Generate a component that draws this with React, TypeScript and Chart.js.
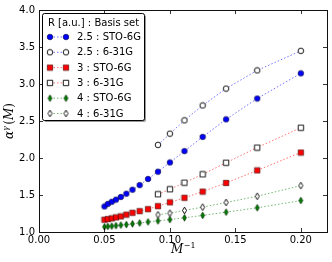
import React, { useEffect, useRef } from "react";
import { Chart, registerables } from "chart.js";
Chart.register(...registerables);

// x values: 1/M for M = 20 ... 5
const invM_all = [0.05, 0.0526, 0.0556, 0.0588, 0.0625, 0.0667, 0.0714, 0.0769, 0.0833, 0.0909, 0.1, 0.1111, 0.125, 0.1429, 0.1667, 0.2];
// x values: 1/M for M = 11 ... 5
const invM_short = [0.0909, 0.1, 0.1111, 0.125, 0.1429, 0.1667, 0.2];

const r25_sto = [1.345, 1.38, 1.408, 1.437, 1.473, 1.517, 1.571, 1.634, 1.717, 1.815, 1.94, 2.093, 2.285, 2.522, 2.804, 3.144];
const r25_631 = [2.177, 2.329, 2.509, 2.71, 2.938, 3.184, 3.448];
const r3_sto = [1.166, 1.174, 1.184, 1.197, 1.211, 1.234, 1.26, 1.282, 1.309, 1.349, 1.401, 1.462, 1.546, 1.663, 1.832, 2.074];
const r3_631 = [1.51, 1.577, 1.667, 1.779, 1.936, 2.141, 2.409];
const r4_sto = [1.07, 1.075, 1.08, 1.086, 1.093, 1.1, 1.11, 1.122, 1.136, 1.15, 1.168, 1.192, 1.224, 1.268, 1.327, 1.425];
const r4_631 = [1.233, 1.255, 1.291, 1.336, 1.399, 1.483, 1.627];

const seriesLabels = ["2.5 : STO-6G", "2.5 : 6-31G", "3 : STO-6G", "3 : 6-31G", "4 : STO-6G", "4 : 6-31G"];
const legendTitle = "R [a.u.] : Basis set";
const xTicks = [0, 0.05, 0.1, 0.15, 0.2];
const yTicks = [1.0, 1.5, 2.0, 2.5, 3.0, 3.5, 4.0];

type Kind = "circle" | "square" | "diamond";

function makeMarker(kind: Kind, fill: string, stroke: string, lw: number): HTMLCanvasElement {
  const c = document.createElement("canvas");
  if (kind === "diamond") {
    c.width = 7;
    c.height = 9;
  } else {
    c.width = 8;
    c.height = 8;
  }
  const ctx = c.getContext("2d")!;
  const cx = c.width / 2;
  const cy = c.height / 2;
  ctx.beginPath();
  if (kind === "circle") {
    ctx.arc(cx, cy, 2.8, 0, Math.PI * 2);
  } else if (kind === "square") {
    ctx.rect(cx - 2.7, cy - 2.7, 5.4, 5.4);
  } else {
    ctx.moveTo(cx, cy - 3.4);
    ctx.lineTo(cx + 2.0, cy);
    ctx.lineTo(cx, cy + 3.4);
    ctx.lineTo(cx - 2.0, cy);
    ctx.closePath();
  }
  ctx.fillStyle = fill;
  ctx.fill();
  ctx.lineWidth = lw;
  ctx.strokeStyle = stroke;
  ctx.stroke();
  return c;
}

export default function App() {
  const ref = useRef<HTMLCanvasElement | null>(null);

  useEffect(() => {
    if (!ref.current) return;
    const markers = [
      makeMarker("circle", "#0000ff", "#000033", 0.6),
      makeMarker("circle", "#ffffff", "#000000", 0.9),
      makeMarker("square", "#ff0000", "#330000", 0.6),
      makeMarker("square", "#ffffff", "#000000", 0.9),
      makeMarker("diamond", "#007a00", "#002200", 0.6),
      makeMarker("diamond", "#ffffff", "#000000", 0.9),
    ];
    const lineColors = [
      "rgba(0,0,255,0.55)",
      "rgba(0,0,255,0.55)",
      "rgba(255,0,0,0.55)",
      "rgba(255,0,0,0.55)",
      "rgba(0,128,0,0.55)",
      "rgba(0,128,0,0.55)",
    ];
    const xsets = [invM_all, invM_short, invM_all, invM_short, invM_all, invM_short];
    const ysets = [r25_sto, r25_631, r3_sto, r3_631, r4_sto, r4_631];

    const datasets = ysets.map((ys, i) => ({
      label: seriesLabels[i],
      data: ys.map((y, j) => ({ x: xsets[i][j], y })),
      showLine: true,
      borderColor: lineColors[i],
      borderWidth: 1,
      borderDash: [1.5, 2],
      pointStyle: markers[i] as any,
      pointRadius: 4,
      backgroundColor: "#000",
      order: 6 - i,
    }));

    const framePlugin = {
      id: "frame",
      afterDatasetsDraw(chart: any) {
        const { ctx, chartArea, scales } = chart;
        const L = chartArea.left, R = chartArea.right, T = chartArea.top, B = chartArea.bottom;
        ctx.save();
        ctx.strokeStyle = "#000";
        ctx.lineWidth = 0.8;
        const tl = 4;
        xTicks.forEach((v) => {
          const px = Math.round(scales.x.getPixelForValue(v)) + 0.5;
          ctx.beginPath();
          ctx.moveTo(px, B);
          ctx.lineTo(px, B - tl);
          ctx.moveTo(px, T);
          ctx.lineTo(px, T + tl);
          ctx.stroke();
        });
        yTicks.forEach((v) => {
          const py = Math.round(scales.y.getPixelForValue(v)) + 0.5;
          ctx.beginPath();
          ctx.moveTo(L, py);
          ctx.lineTo(L + tl, py);
          ctx.moveTo(R, py);
          ctx.lineTo(R - tl, py);
          ctx.stroke();
        });
        ctx.lineWidth = 1;
        ctx.strokeStyle = "#111";
        ctx.strokeRect(Math.round(L) + 0.5, Math.round(T) + 0.5, Math.round(R - L), Math.round(B - T));
        ctx.restore();
      },
      afterDraw(chart: any) {
        const { ctx, chartArea } = chart;
        ctx.save();
        // ---------- legend ----------
        const bx = 42.5, by = 13.5, bw = 102, bh = 107;
        const rr = 2;
        const roundRect = (x: number, y: number, w: number, h: number) => {
          ctx.beginPath();
          ctx.moveTo(x + rr, y);
          ctx.lineTo(x + w - rr, y);
          ctx.quadraticCurveTo(x + w, y, x + w, y + rr);
          ctx.lineTo(x + w, y + h - rr);
          ctx.quadraticCurveTo(x + w, y + h, x + w - rr, y + h);
          ctx.lineTo(x + rr, y + h);
          ctx.quadraticCurveTo(x, y + h, x, y + h - rr);
          ctx.lineTo(x, y + rr);
          ctx.quadraticCurveTo(x, y, x + rr, y);
          ctx.closePath();
        };
        roundRect(bx + 1.5, by + 1.5, bw, bh);
        ctx.fillStyle = "rgba(0,0,0,0.4)";
        ctx.fill();
        roundRect(bx, by, bw, bh);
        ctx.fillStyle = "#fff";
        ctx.fill();
        ctx.lineWidth = 1;
        ctx.strokeStyle = "#000";
        ctx.stroke();

        ctx.font = "10px 'DejaVu Sans'";
        ctx.fillStyle = "#000";
        ctx.textBaseline = "middle";
        ctx.textAlign = "center";
        ctx.fillText(legendTitle, bx + bw / 2, 23);
        ctx.textAlign = "left";
        for (let i = 0; i < 6; i++) {
          const cy = 37 + i * 15.3;
          ctx.beginPath();
          ctx.setLineDash([1.5, 2]);
          ctx.strokeStyle = lineColors[i];
          ctx.lineWidth = 1;
          ctx.moveTo(50, cy);
          ctx.lineTo(66, cy);
          ctx.stroke();
          ctx.setLineDash([]);
          const m = markers[i];
          ctx.drawImage(m, 50 - m.width / 2, cy - m.height / 2);
          ctx.drawImage(m, 66 - m.width / 2, cy - m.height / 2);
          ctx.fillStyle = "#000";
          ctx.fillText(seriesLabels[i], 77, cy + 0.5);
        }

        // ---------- x axis title: M^{-1} ----------
        const xc = (chartArea.left + chartArea.right) / 2;
        const big = "italic 12px 'DejaVu Serif'";
        const small = "8px 'DejaVu Serif'";
        ctx.textBaseline = "alphabetic";
        ctx.font = big;
        const wM = ctx.measureText("M").width;
        ctx.font = small;
        const wSup = ctx.measureText("\u22121").width;
        let x0 = xc - (wM + wSup) / 2;
        ctx.font = big;
        ctx.fillText("M", x0, 253);
        ctx.font = small;
        ctx.fillText("\u22121", x0 + wM + 0.5, 248);

        // ---------- y axis title: alpha^gamma(M) ----------
        const yc = (chartArea.top + chartArea.bottom) / 2;
        ctx.translate(13, yc);
        ctx.rotate(-Math.PI / 2);
        const parts: [string, string, number][] = [
          ["\u03b1", "italic 12px 'DejaVu Serif'", 0],
          ["\u03b3", "italic 8px 'DejaVu Serif'", -5],
          ["(", "12px 'DejaVu Serif'", 0],
          ["M", "italic 12px 'DejaVu Serif'", 0],
          [")", "12px 'DejaVu Serif'", 0],
        ];
        let total = 0;
        const widths = parts.map(([t, f]) => {
          ctx.font = f;
          const w = ctx.measureText(t).width;
          total += w;
          return w;
        });
        total += 1.5;
        let px = -total / 2;
        parts.forEach(([t, f, dy], k) => {
          ctx.font = f;
          ctx.fillText(t, px, dy);
          px += widths[k] + (k === 1 ? 1.5 : 0);
        });
        ctx.restore();
      },
    };

    const chart = new Chart(ref.current, {
      type: "scatter",
      data: { datasets: datasets as any },
      options: {
        animation: false,
        responsive: false,
        events: [],
        layout: { padding: { left: 0, top: 8, right: 5, bottom: 0 } },
        plugins: { legend: { display: false }, tooltip: { enabled: false } },
        scales: {
          x: {
            type: "linear",
            min: 0,
            max: 0.22,
            grid: { display: false, drawTicks: false, tickLength: 0 },
            border: { display: false },
            afterBuildTicks: (s: any) => {
              s.ticks = xTicks.map((v) => ({ value: v }));
            },
            afterFit: (s: any) => {
              s.height = 30;
            },
            ticks: {
              padding: 2,
              color: "#000",
              font: { family: "'DejaVu Sans'", size: 10 },
              maxRotation: 0,
              callback: (v: any) => Number(v).toFixed(2),
            },
          },
          y: {
            type: "linear",
            min: 1.0,
            max: 4.0,
            grid: { display: false, drawTicks: false, tickLength: 0 },
            border: { display: false },
            afterBuildTicks: (s: any) => {
              s.ticks = yTicks.map((v) => ({ value: v }));
            },
            afterFit: (s: any) => {
              s.width = 39;
            },
            ticks: {
              padding: 4,
              color: "#000",
              font: { family: "'DejaVu Sans'", size: 10 },
              callback: (v: any) => Number(v).toFixed(1),
            },
          },
        },
      },
      plugins: [framePlugin],
    });
    return () => chart.destroy();
  }, []);

  return (
    <div style={{ position: "fixed", left: 0, top: 0, width: 332, height: 262, background: "#fff" }}>
      <canvas ref={ref} width={332} height={262} style={{ display: "block" }} />
    </div>
  );
}
